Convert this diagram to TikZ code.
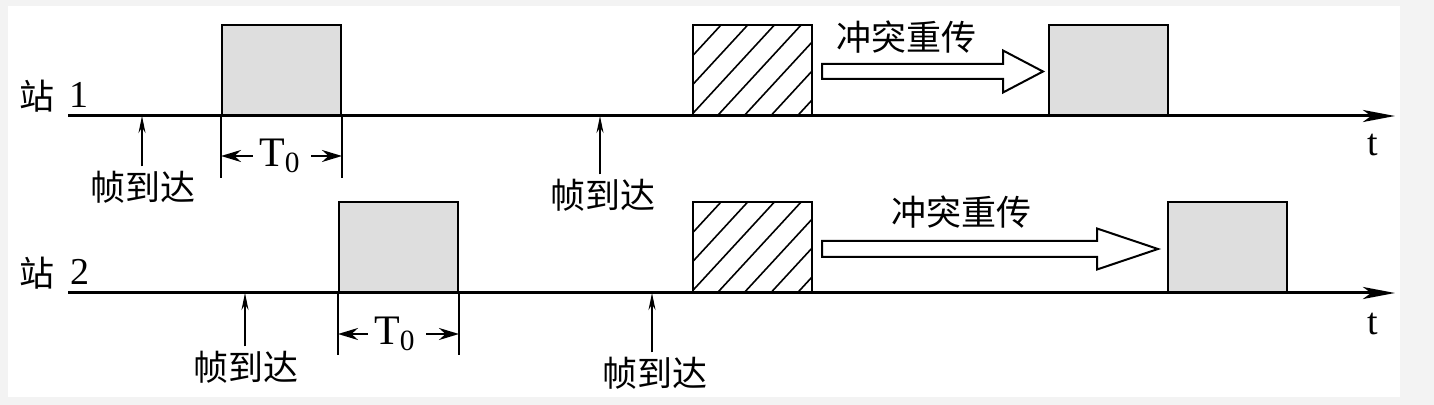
\documentclass[tikz,border=0pt]{standalone}
\usepackage{fontspec}
\setmainfont{Liberation Serif}
\newfontfamily\cjk{Noto Sans CJK SC}
\usetikzlibrary{arrows.meta,calc}
\definecolor{framegray}{RGB}{222,222,222}
\definecolor{bggray}{RGB}{243,243,243}
\begin{document}
\begin{tikzpicture}[x=0.5pt,y=-0.5pt,
  axis/.style={line width=1.5pt,-{Stealth[length=16pt,width=6pt,inset=4pt]}},
  framebox/.style={draw,line width=1pt,fill=framegray,minimum width=59.5pt,minimum height=45pt,inner sep=0pt,anchor=south west},
  hatchbox/.style={draw,line width=1pt,fill=white,minimum width=59.5pt,minimum height=45pt,inner sep=0pt,anchor=south west,
    path picture={\foreach \k in {0,...,6}{\draw[line width=0.8pt] ($(path picture bounding box.south west)+(-55+26.7*\k,0)$) -- ++(83,-90);}}},
  arrival/.style={line width=0.8pt,-{Stealth[length=8.5pt,width=3.5pt]}},
  cjklabel/.style={font=\cjk\fontsize{17.5}{18}\selectfont,inner sep=0pt},
  latlabel/.style={font=\fontsize{19}{20}\selectfont,inner sep=0pt},
  Tlabel/.style={font=\fontsize{21}{22}\selectfont,inner sep=0pt},
  tlabel/.style={font=\fontsize{19}{20}\selectfont,inner sep=0pt},
  dimline/.style={line width=0.8pt},
  dimarrow/.style={line width=1.2pt,-{Stealth[length=10pt,width=6pt]}},
  hollow/.style={draw,line width=1pt,fill=white,line join=miter}]
% background
\fill[bggray] (0,0) rectangle (1434,405);
\fill[white] (8,6) rectangle (1400,397);
\useasboundingbox (0,0) rectangle (1434,405);

% ---------- station 1 ----------
\coordinate (s1) at (68,116);
\coordinate (e1) at (1395,116);
\node[cjklabel] (st1) at (37,96) {站};
\node[latlabel] (n1) at (79,95) {1};
\node[framebox] (f1) at (221,116) {};
\node[hatchbox] (h1) at (692,116) {};
\node[framebox] (g1) at (1048,116) {};
\draw[axis] (s1) -- (e1);
\node[tlabel] (t1) at (1373,145) {t};

% arrivals station 1
\coordinate (p1) at (142,116);
\coordinate (p2) at (600,116);
\node[cjklabel] (l1) at (143,187) {帧到达};
\node[cjklabel] (l2) at (603,195) {帧到达};
\draw[arrival] ($(p1 |- l1.north)+(0,-4)$) -- (p1);
\draw[arrival] ($(p2 |- l2.north)+(0,-4)$) -- (p2);

% T0 station 1
\draw[dimline] (f1.south west) -- ++(0,62);
\draw[dimline] (f1.south east) -- ++(0,62);
\node[Tlabel] (T1) at (280,156) {T\textsubscript{0}};
\draw[dimarrow] ($(T1.west)+(-6,0)$) -- (T1.west -| f1.south west);
\draw[dimarrow] ($(T1.east)+(10,0)$) -- (T1.east -| f1.south east);

% retransmit arrow station 1
\node[cjklabel] (c1) at (906,37) {冲突重传};
\draw[hollow] (822,64) -- (1003,64) -- (1003,50.5) -- (1043,71.5) -- (1003,92.5) -- (1003,79) -- (822,79) -- cycle;

% ---------- station 2 ----------
\coordinate (s2) at (68,293);
\coordinate (e2) at (1395,293);
\node[cjklabel] (st2) at (37,273) {站};
\node[latlabel] (n2) at (80,272) {2};
\node[framebox] (f2) at (338,293) {};
\node[hatchbox] (h2) at (692,293) {};
\node[framebox] (g2) at (1167,293) {};
\draw[axis] (s2) -- (e2);
\node[tlabel] (t2) at (1373,324) {t};

% arrivals station 2
\coordinate (p3) at (245,293);
\coordinate (p4) at (652,293);
\node[cjklabel] (l3) at (246,367) {帧到达};
\node[cjklabel] (l4) at (655,373) {帧到达};
\draw[arrival] ($(p3 |- l3.north)+(0,-4)$) -- (p3);
\draw[arrival] ($(p4 |- l4.north)+(0,-4)$) -- (p4);

% T0 station 2
\draw[dimline] (f2.south west) -- ++(0,62);
\draw[dimline] (f2.south east) -- ++(0,62);
\node[Tlabel] (T2) at (395,334) {T\textsubscript{0}};
\draw[dimarrow] ($(T2.west)+(-6,0)$) -- (T2.west -| f2.south west);
\draw[dimarrow] ($(T2.east)+(10,0)$) -- (T2.east -| f2.south east);

% retransmit arrow station 2
\node[cjklabel] (c2) at (961,212) {冲突重传};
\draw[hollow] (822,241) -- (1097,241) -- (1097,228.5) -- (1158,249) -- (1097,269.5) -- (1097,257) -- (822,257) -- cycle;
\end{tikzpicture}
\end{document}
